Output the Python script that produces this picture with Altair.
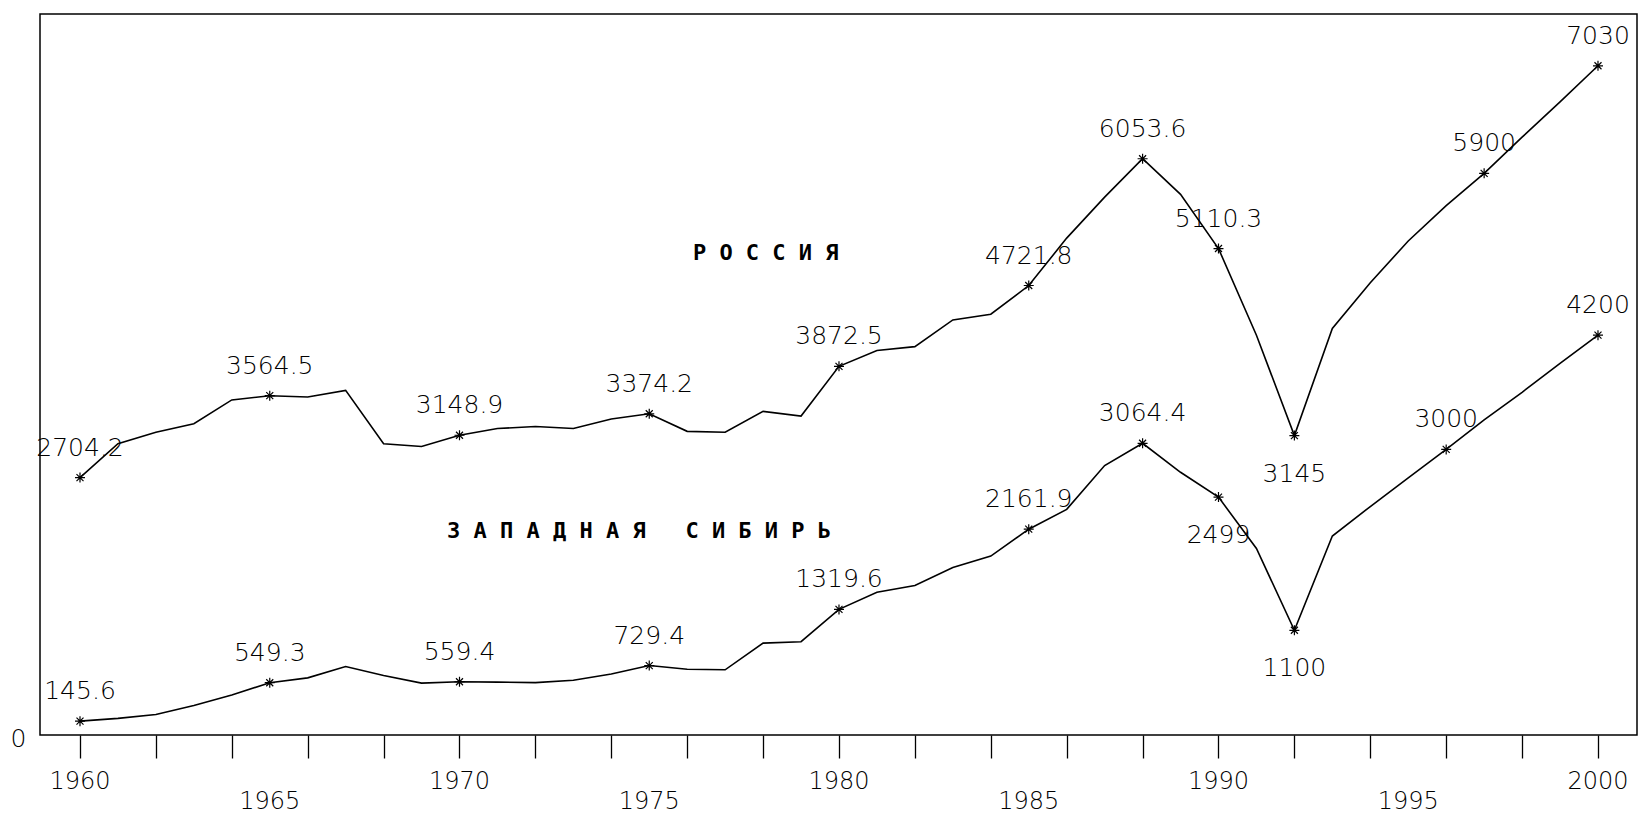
import altair as alt
import pandas as pd

# ---- data ----
years = list(range(1960, 2001))
russia = [2704.2, 3060, 3180, 3270, 3520, 3564.5, 3550, 3620, 3060, 3030,
          3148.9, 3220, 3240, 3220, 3320, 3374.2, 3190, 3180, 3400, 3350,
          3872.5, 4040, 4080, 4360, 4420, 4721.8, 5220, 5650, 6053.6, 5680,
          5110.3, 4200, 3145, 4270, 4750, 5190, 5560, 5900, 6280, 6650, 7030]
siberia = [145.6, 175, 215, 310, 420, 549.3, 600, 720, 625, 545,
           559.4, 555, 550, 575, 640, 729.4, 690, 685, 965, 980,
           1319.6, 1500, 1570, 1760, 1880, 2161.9, 2370, 2830, 3064.4, 2760,
           2499, 1960, 1100, 2090, 2400, 2700, 3000, 3310, 3600, 3905, 4200]

russia_marked = [1960, 1965, 1970, 1975, 1980, 1985, 1988, 1990, 1992, 1997, 2000]
russia_labels = ["2704.2", "3564.5", "3148.9", "3374.2", "3872.5", "4721.8",
                 "6053.6", "5110.3", "3145", "5900", "7030"]
siberia_marked = [1960, 1965, 1970, 1975, 1980, 1985, 1988, 1990, 1992, 1996, 2000]
siberia_labels = ["145.6", "549.3", "559.4", "729.4", "1319.6", "2161.9",
                  "3064.4", "2499", "1100", "3000", "4200"]

NB = "\u00a0"
series_names = ["РОССИЯ", "ЗАПАДНАЯ СИБИРЬ"]
series_titles = [NB.join("РОССИЯ"),
                 NB.join("ЗАПАДНАЯ") + NB * 3 + NB.join("СИБИРЬ")]
title_anchor_year = [1976.15, 1969.67]
title_anchor_value = [5063, 2143]

year_label_decades = [1960, 1970, 1980, 1990, 2000]
year_label_mids = [1965, 1975, 1985, 1995]

# labels drawn under their point instead of above
labels_below = {("РОССИЯ", 1992), ("ЗАПАДНАЯ СИБИРЬ", 1990), ("ЗАПАДНАЯ СИБИРЬ", 1992)}

# ---- tables ----
lines = pd.DataFrame(
    [{"year": y, "value": v, "series": series_names[0]} for y, v in zip(years, russia)]
    + [{"year": y, "value": v, "series": series_names[1]} for y, v in zip(years, siberia)]
)

marked_rows = []
for name, vals, myears, labs in [(series_names[0], russia, russia_marked, russia_labels),
                                 (series_names[1], siberia, siberia_marked, siberia_labels)]:
    for yr, lab in zip(myears, labs):
        marked_rows.append({"year": yr, "value": vals[years.index(yr)],
                            "series": name, "label": lab})
marked = pd.DataFrame(marked_rows)
is_below = marked.apply(lambda r: (r["series"], r["year"]) in labels_below, axis=1)
marked_above = marked[~is_below]
marked_below = marked[is_below]

titles = pd.DataFrame({"year": title_anchor_year, "value": title_anchor_value,
                       "text": series_titles})

X_DOMAIN = [1958.946, 2001.028]
Y_DOMAIN = [0, 7574]
NUM_FONT = "DejaVu Sans"

x_enc = alt.X("year:Q", scale=alt.Scale(domain=X_DOMAIN, nice=False, zero=False),
              axis=alt.Axis(values=years, labels=False, ticks=True, tickSize=23,
                            tickColor="black", tickWidth=1.3, domain=False,
                            grid=False, title=None))
y_enc = alt.Y("value:Q", scale=alt.Scale(domain=Y_DOMAIN, nice=False),
              axis=alt.Axis(values=[0], labelFontSize=25, labelFont=NUM_FONT,
                            labelFontWeight=200, labelColor="black",
                            ticks=False, domain=False, grid=False, title=None,
                            labelPadding=14, labelOffset=3))

line_layer = alt.Chart(lines).mark_line(color="black", strokeWidth=1.6).encode(
    x=x_enc, y=y_enc, detail="series:N")

asterisk = "M-1,0L1,0M0,-1L0,1M-0.7,-0.7L0.7,0.7M-0.7,0.7L0.7,-0.7"
star_layer = alt.Chart(marked).mark_point(shape=asterisk, size=100, filled=False,
                                          color="black", strokeWidth=1.2, opacity=1).encode(
    x="year:Q", y="value:Q")

lab_above = alt.Chart(marked_above).mark_text(
    font=NUM_FONT, fontSize=25, fontWeight=200, color="black",
    baseline="middle", align="center", dy=-30).encode(
    x="year:Q", y="value:Q", text="label:N")

lab_below = alt.Chart(marked_below).mark_text(
    font=NUM_FONT, fontSize=25, fontWeight=200, color="black",
    baseline="middle", align="center", dy=38).encode(
    x="year:Q", y="value:Q", text="label:N")

title_layer = alt.Chart(titles).mark_text(
    font="DejaVu Sans Mono", fontSize=22, fontWeight="bold", color="black",
    align="left", baseline="middle").encode(x="year:Q", y="value:Q", text="text:N")

yl_dec = alt.Chart(pd.DataFrame({"year": year_label_decades})).mark_text(
    font=NUM_FONT, fontSize=24, fontWeight=200, color="black",
    align="center", baseline="middle").encode(
    x="year:Q", y=alt.value(768), text=alt.Text("year:Q", format="d"))
yl_mid = alt.Chart(pd.DataFrame({"year": year_label_mids})).mark_text(
    font=NUM_FONT, fontSize=24, fontWeight=200, color="black",
    align="center", baseline="middle").encode(
    x="year:Q", y=alt.value(788), text=alt.Text("year:Q", format="d"))

chart = alt.layer(line_layer, star_layer, lab_above, lab_below,
                  title_layer, yl_dec, yl_mid).properties(
    width=1597, height=721,
    padding={"left": 32, "top": 6, "right": 5, "bottom": 82},
    autosize=alt.AutoSizeParams(type="none"),
    background="white",
).configure_view(stroke="black", strokeWidth=1.5)

chart.save("out.html", embed_options={"renderer": "svg", "actions": False})
